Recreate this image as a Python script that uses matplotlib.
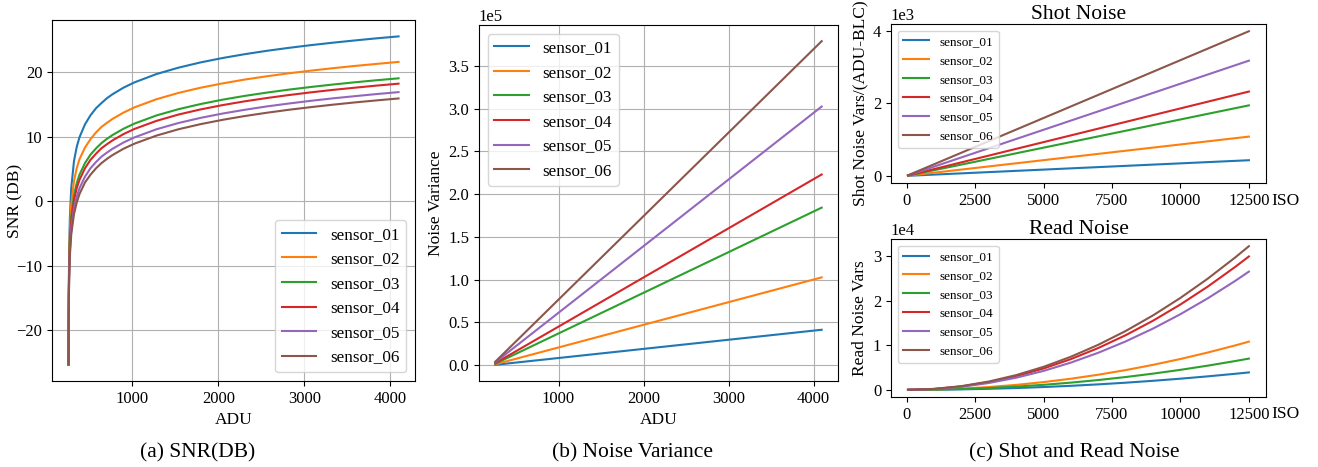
import numpy as np
import matplotlib
matplotlib.use('Agg')
import matplotlib.pyplot as plt
from matplotlib.ticker import MultipleLocator

plt.rcParams['font.family'] = 'serif'
plt.rcParams['font.serif'] = ['Liberation Serif', 'DejaVu Serif']
plt.rcParams['mathtext.fontset'] = 'stix'
plt.rcParams['font.size'] = 12.5
plt.rcParams['xtick.labelsize'] = 12
plt.rcParams['ytick.labelsize'] = 12

names = ['sensor_01', 'sensor_02', 'sensor_03', 'sensor_04', 'sensor_05', 'sensor_06']

# (a) SNR in dB vs ADU
adu = [257, 258, 260, 264, 272, 288, 320, 352, 384, 448, 512, 576, 640, 704, 768, 896,
       1024, 1280, 1536, 1792, 2048, 2304, 2560, 2816, 3072, 3328, 3584, 3840, 4096]
snr_01 = [-25.3, -19.1, -13.4, -7.9, -2.7, 2.0, 6.2, 8.4, 9.9, 11.9, 13.3, 14.39, 15.2, 15.95, 16.56, 17.58,
          18.40, 19.69, 20.68, 21.49, 22.17, 22.76, 23.28, 23.74, 24.16, 24.54, 24.89, 25.22, 25.52]
snr_02 = [-25.3, -19.3, -13.9, -9.0, -4.5, -0.5, 3.1, 5.1, 6.5, 8.3, 9.6, 10.64, 11.5, 12.14, 12.74, 13.72,
          14.53, 15.79, 16.77, 17.57, 18.24, 18.83, 19.34, 19.80, 20.21, 20.59, 20.94, 21.26, 21.57]
snr_03 = [-25.3, -19.6, -14.6, -10.1, -6.1, -2.5, 0.9, 2.8, 4.1, 5.9, 7.2, 8.17, 9.0, 9.66, 10.24, 11.22,
          12.02, 13.28, 14.25, 15.04, 15.72, 16.30, 16.81, 17.27, 17.68, 18.06, 18.41, 18.73, 19.03]
snr_04 = [-25.3, -19.7, -14.9, -10.5, -6.7, -3.2, 0.1, 2.0, 3.3, 5.1, 6.4, 7.35, 8.2, 8.83, 9.41, 10.39,
          11.19, 12.44, 13.42, 14.21, 14.88, 15.46, 15.97, 16.43, 16.85, 17.23, 17.57, 17.90, 18.20]
snr_05 = [-25.3, -19.9, -15.4, -11.3, -7.7, -4.3, -1.1, 0.7, 2.0, 3.8, 5.1, 6.06, 6.9, 7.53, 8.11, 9.09,
          9.88, 11.14, 12.11, 12.90, 13.57, 14.15, 14.67, 15.12, 15.54, 15.92, 16.26, 16.59, 16.89]
snr_06 = [-25.3, -20.2, -15.8, -12.0, -8.5, -5.2, -2.0, -0.2, 1.1, 2.9, 4.1, 5.09, 5.9, 6.56, 7.14, 8.12,
          8.91, 10.16, 11.14, 11.93, 12.60, 13.18, 13.69, 14.15, 14.56, 14.94, 15.29, 15.61, 15.91]
snr_all = [snr_01, snr_02, snr_03, snr_04, snr_05, snr_06]

# (b) noise variance vs ADU
adu_var = [256, 4096]
var_01 = [300, 41300]
var_02 = [900, 102600]
var_03 = [1600, 184200]
var_04 = [2200, 223000]
var_05 = [3200, 302500]
var_06 = [3900, 379000]
var_all = [var_01, var_02, var_03, var_04, var_05, var_06]

# (c) shot noise and read noise vs ISO
iso_shot = [50, 12500]
shot_01 = [2, 430]
shot_02 = [5, 1080]
shot_03 = [8, 1940]
shot_04 = [10, 2320]
shot_05 = [13, 3170]
shot_06 = [16, 3980]
shot_all = [shot_01, shot_02, shot_03, shot_04, shot_05, shot_06]

iso_read = [50, 1000, 2000, 3000, 4000, 5000, 6000, 7000, 8000, 9000, 10000, 11000, 12000, 12500]
read_01 = [0, 25, 100, 225, 399, 624, 899, 1223, 1597, 2022, 2496, 3020, 3594, 3900]
read_02 = [1, 69, 276, 622, 1106, 1728, 2488, 3387, 4424, 5599, 6912, 8364, 9953, 10800]
read_03 = [0, 45, 179, 403, 717, 1120, 1613, 2195, 2867, 3629, 4480, 5421, 6451, 7000]
read_04 = [2, 191, 765, 1722, 3062, 4784, 6889, 9377, 12247, 15500, 19136, 23155, 27556, 29900]
read_05 = [2, 170, 678, 1526, 2714, 4240, 6106, 8310, 10854, 13738, 16960, 20522, 24422, 26500]
read_06 = [2, 206, 824, 1855, 3297, 5152, 7419, 10098, 13189, 16692, 20608, 24936, 29676, 32200]
read_all = [read_01, read_02, read_03, read_04, read_05, read_06]

fig = plt.figure(figsize=(13.18, 4.67), dpi=100)

# panel a
ax1 = fig.add_axes([0.0395, 0.1842, 0.2754, 0.773])
for name, y in zip(names, snr_all):
    ax1.plot(adu, y, label=name)
ax1.grid(True)
ax1.set_xlabel('ADU')
ax1.set_ylabel('SNR (DB)')
ax1.yaxis.set_label_coords(-0.08, 0.5)
ax1.legend(loc='lower right', fontsize=12.3)

# panel b
ax2 = fig.add_axes([0.3634, 0.1842, 0.2724, 0.7623])
for name, y in zip(names, var_all):
    ax2.plot(adu_var, y, label=name)
ax2.grid(True)
ax2.set_xlabel('ADU')
ax2.set_ylabel('Noise Variance')
ax2.yaxis.set_label_coords(-0.0975, 0.5)
ax2.ticklabel_format(axis='y', style='sci', scilimits=(0, 0))
ax2.legend(loc='upper left', fontsize=12.3)

# panel c top
ax3 = fig.add_axes([0.676, 0.6081, 0.2845, 0.3405])
for name, y in zip(names, shot_all):
    ax3.plot(iso_shot, y, label=name)
ax3.set_title('Shot Noise', fontsize=15.5, pad=3)
ax3.set_ylabel('Shot Noise Vars/(ADU-BLC)')
ax3.yaxis.set_label_coords(-0.061, 0.5)
ax3.ticklabel_format(axis='y', style='sci', scilimits=(0, 0))
ax3.xaxis.set_major_locator(MultipleLocator(2500))
ax3.set_xlabel('ISO')
ax3.xaxis.set_label_coords(1.053, -0.06)
ax3.legend(loc='upper left', fontsize=9.5)

# panel c bottom
ax4 = fig.add_axes([0.676, 0.1499, 0.2845, 0.3383])
for name, y in zip(names, read_all):
    ax4.plot(iso_read, y, label=name)
ax4.set_title('Read Noise', fontsize=15.5, pad=3)
ax4.set_ylabel('Read Noise Vars')
ax4.yaxis.set_label_coords(-0.061, 0.5)
ax4.ticklabel_format(axis='y', style='sci', scilimits=(0, 0))
ax4.xaxis.set_major_locator(MultipleLocator(2500))
ax4.set_xlabel('ISO')
ax4.xaxis.set_label_coords(1.053, -0.06)
ax4.legend(loc='upper left', fontsize=9.5)

fig.text(0.15, 0.03, '(a) SNR(DB)', ha='center', va='center', fontsize=15.5)
fig.text(0.48, 0.03, '(b) Noise Variance', ha='center', va='center', fontsize=15.5)
fig.text(0.815, 0.03, '(c) Shot and Read Noise', ha='center', va='center', fontsize=15.5)

fig.savefig('out.png', dpi=100)
